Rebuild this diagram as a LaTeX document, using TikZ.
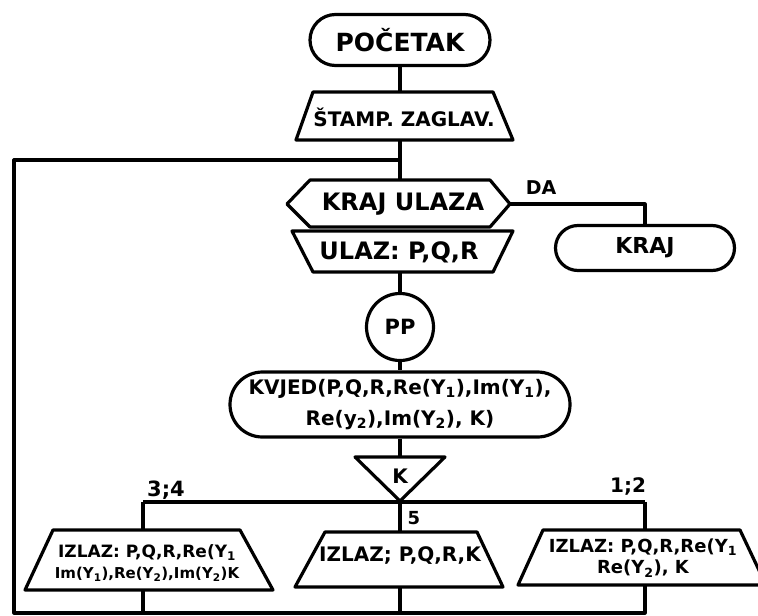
\documentclass[tikz,border=0pt]{standalone}
\usepackage{fontspec}
\setmainfont{DejaVu Sans}
\usetikzlibrary{shapes.misc}
\newcommand\fs[2]{\bfseries\fontsize{#1}{#2}\selectfont}
\newcommand\sbs[1]{\textsubscript{#1}}
\begin{document}
\begin{tikzpicture}[x=1pt,y=-1pt, line width=3.2pt, line join=round,
  term/.style={draw, rounded rectangle, inner sep=0pt},
  txt/.style={inner sep=0pt, align=center}]
\useasboundingbox (0,0) rectangle (758,616);
% start
\node[term, minimum width=180pt, minimum height=51pt, font=\fs{25}{29}] (poc) at (400,40) {POČETAK};
% header print
\draw (313,92) -- (493,92) -- (513,140) -- (296,140) -- cycle;
\coordinate (stampN) at (400,92);
\coordinate (stampS) at (400,140);
\node[txt, font=\fs{20}{24}] (stamp) at (404,117) {ŠTAMP. ZAGLAV.};
\draw (poc.south) -- (stampN);
% end of input test
\draw (310,180) -- (490,180) -- (510,204) -- (490,227) -- (310,227) -- (287,204) -- cycle;
\coordinate (hexN) at (400,180);
\coordinate (hexE) at (510,204);
\coordinate (join) at (400,160);
\node[txt, font=\fs{24}{28}] (krajul) at (403,204) {KRAJ ULAZA};
\draw (stampS) -- (hexN);
% input
\draw (292,231) -- (513,231) -- (493,272) -- (313,272) -- cycle;
\coordinate (ulazS) at (400,272);
\node[txt, font=\fs{24}{28}] (ulaz) at (399,252) {ULAZ: P,Q,R};
% DA branch
\node[term, minimum width=179pt, minimum height=45pt, font=\fs{22}{26}] (kraj) at (645,248) {KRAJ};
\coordinate (daC) at (645,204);
\draw (hexE) -- (daC) -- (kraj.north);
\node[txt, font=\fs{19}{22}] (da) at (541,188) {DA};
% PP
\node[draw, circle, minimum size=67pt, inner sep=0pt, font=\fs{21}{24}] (pp) at (400,327) {PP};
\draw (ulazS) -- (pp.north);
% KVJED
\node[term, minimum width=340pt, minimum height=65pt, align=center, font=\fs{20}{31}] (kv) at (400,404.5)
  {KVJED(P,Q,R,Re(Y\sbs{1}),Im(Y\sbs{1}),\\Re(y\sbs{2}),Im(Y\sbs{2}), K)};
\draw (pp.south) -- (kv.north);
% switch K
\draw (355,457) -- (445,457) -- (400,501) -- cycle;
\coordinate (triN) at (400,457);
\coordinate (triS) at (400,501);
\node[txt, font=\fs{20}{24}] (k) at (400,476) {K};
\draw (kv.south) -- (triN);
% branches
\coordinate (bL) at (143,502);
\coordinate (bR) at (645,502);
\draw (bL) -- (bR);
\coordinate (lT) at (143,530);
\coordinate (mT) at (400,532);
\coordinate (rT) at (645,530);
\draw (bL) -- (lT);
\draw (triS) -- (mT);
\draw (bR) -- (rT);
\node[txt, font=\fs{21}{24}] (l34) at (166,490) {3;4};
\node[txt, font=\fs{18}{21}] (l5) at (414,518) {5};
\node[txt, font=\fs{20}{24}] (l12) at (628,486) {1;2};
% outputs
\draw (53,530) -- (240,530) -- (273,590) -- (25,590) -- cycle;
\node[txt, font=\fs{17}{21}] (izL) at (147,563) {IZLAZ: P,Q,R,Re(Y\sbs{1}\\{\fontsize{15}{21}\selectfont Im(Y\sbs{1}),Re(Y\sbs{2}),Im(Y\sbs{2})K}};
\draw (325,532) -- (477,532) -- (503,587) -- (295,587) -- cycle;
\node[txt, font=\fs{20}{24}] (izM) at (400,556) {IZLAZ; P,Q,R,K};
\draw (543,530) -- (740,530) -- (766,585) -- (518,585) -- cycle;
\node[txt, font=\fs{18}{21}] (izR) at (643,558) {IZLAZ: P,Q,R,Re(Y\sbs{1}\\Re(Y\sbs{2}), K};
\coordinate (lB) at (143,590);
\coordinate (mB) at (400,587);
\coordinate (rB) at (645,585);
\coordinate (bot0) at (14,613);
\coordinate (botL) at (143,613);
\coordinate (botM) at (400,613);
\coordinate (botR) at (645,613);
\coordinate (left0) at (14,160);
\draw (lB) -- (botL);
\draw (mB) -- (botM);
\draw (rB) -- (botR) -- (bot0) -- (left0) -- (join);
\end{tikzpicture}
\end{document}
